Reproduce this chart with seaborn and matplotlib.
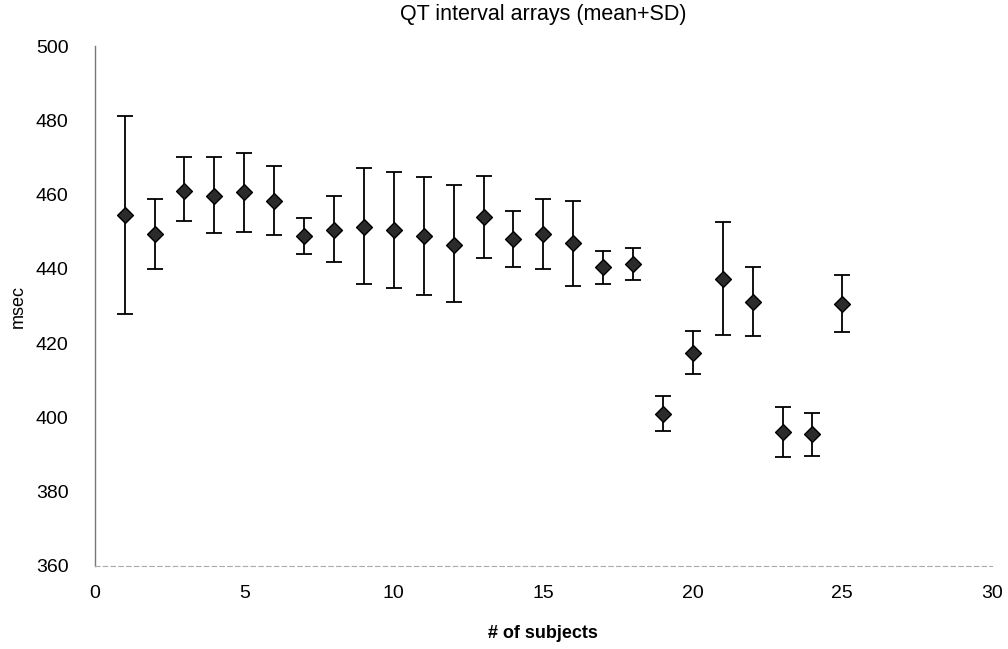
import numpy as np
import pandas as pd
import matplotlib
matplotlib.use("Agg")
import matplotlib.pyplot as plt
import seaborn as sns

# ---- data ----
subjects = list(range(1, 26))
qt_mean = [454.5, 449.4, 461.1, 459.7, 460.6, 458.2, 448.9, 450.4, 451.3, 450.4,
           448.8, 446.4, 453.9, 448.1, 449.4, 446.9, 440.4, 441.4, 400.9, 417.3,
           437.2, 431.0, 396.0, 395.5, 430.5]
qt_upper = [481.2, 458.8, 470.0, 470.0, 471.3, 467.8, 453.7, 459.6, 467.1, 466.0,
            464.8, 462.5, 465.0, 455.5, 458.7, 458.3, 444.8, 445.6, 405.7, 423.2,
            452.5, 440.6, 402.9, 401.3, 438.3]
qt_lower = [427.9, 440.1, 452.8, 449.7, 449.8, 449.1, 443.9, 441.8, 435.8, 434.9,
            432.9, 431.1, 442.9, 440.5, 440.0, 435.3, 436.0, 437.0, 396.4, 411.6,
            422.3, 421.8, 389.3, 389.7, 423.0]
x_ticks = [0, 5, 10, 15, 20, 25, 30]
y_ticks = [360, 380, 400, 420, 440, 460, 480, 500]

df = pd.DataFrame({"subject": subjects, "mean": qt_mean,
                   "upper": qt_upper, "lower": qt_lower})

sns.set_theme(style="white")
plt.rcParams["font.family"] = ["Liberation Sans", "DejaVu Sans"]
plt.rcParams["text.color"] = "black"
plt.rcParams["axes.labelcolor"] = "black"

fig = plt.figure(figsize=(10.08, 6.49), dpi=100)
ax = fig.add_axes([0.094, 0.128, 0.890, 0.801])

yerr = np.vstack([df["mean"] - df["lower"], df["upper"] - df["mean"]])
ax.errorbar(df["subject"], df["mean"], yerr=yerr, fmt="none",
            ecolor="black", elinewidth=1.3, capsize=6, capthick=1.3, zorder=2)
sns.scatterplot(data=df, x="subject", y="mean", marker="D", s=65,
                color="#2b2b2b", edgecolor="black", linewidth=1.0,
                ax=ax, zorder=3, legend=False)

ax.set_xlim(0, 30)
ax.set_ylim(360, 500)
ax.set_xticks(x_ticks)
ax.set_yticks(y_ticks)
ax.tick_params(axis="x", direction="inout", length=8, width=0.8,
               colors="#777777", labelcolor="black", labelsize=14, pad=10)
ax.tick_params(axis="y", direction="out", length=3, width=0.8,
               colors="#777777", labelcolor="black", labelsize=14, pad=16)

for side in ["top", "right"]:
    ax.spines[side].set_visible(False)
ax.spines["left"].set_color("#777777")
ax.spines["left"].set_linewidth(1.0)
ax.spines["bottom"].set_color("#aaaaaa")
ax.spines["bottom"].set_linewidth(0.8)
ax.spines["bottom"].set_linestyle((0, (4, 3)))

ax.set_title("QT interval arrays (mean+SD)", fontsize=15.5, pad=19, color="black")
ax.set_xlabel("# of subjects", fontsize=13, fontweight="bold", labelpad=16)
ax.set_ylabel("msec", fontsize=13, labelpad=6)

fig.savefig("out.png", dpi=100)
